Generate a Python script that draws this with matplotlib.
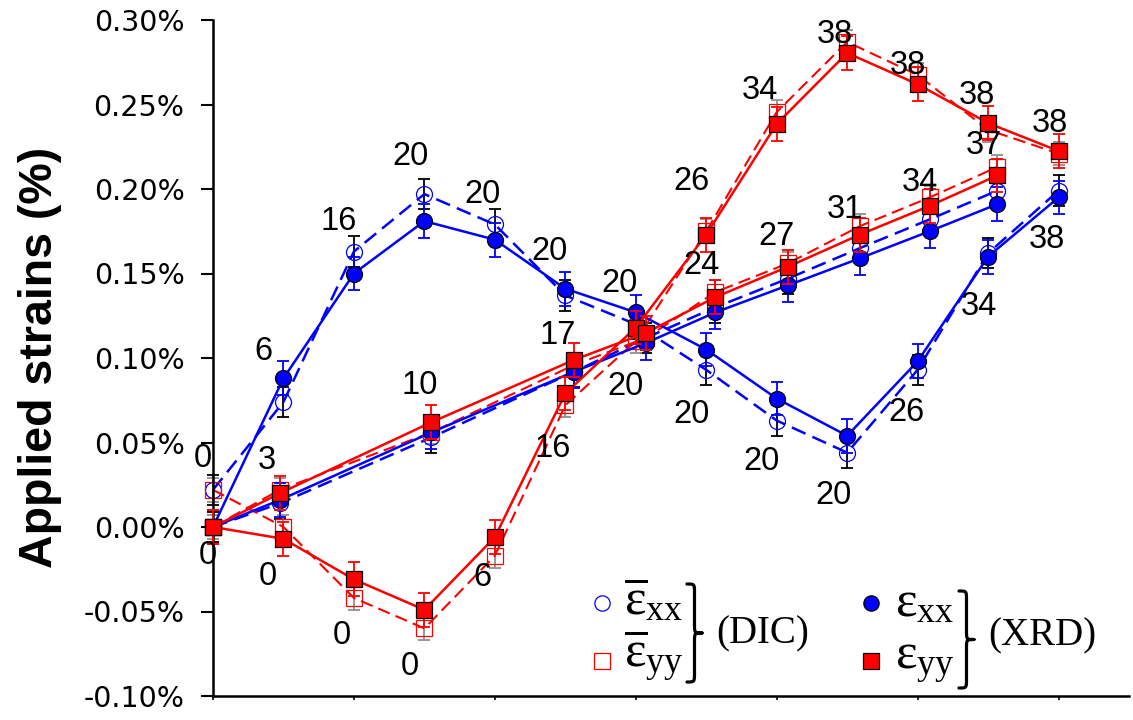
import matplotlib
matplotlib.use('Agg')
import matplotlib.pyplot as plt
from matplotlib.path import Path
from matplotlib.patches import PathPatch
from matplotlib.lines import Line2D
from matplotlib.ticker import FuncFormatter

# ---------------- data (strains in %) ----------------
# Path A: sequential loading (x then y)
step_a = [0, 1, 2, 3, 4, 5, 6, 7, 8, 9, 10, 11, 12]
xrd_xx_a = [0.000, 0.088, 0.150, 0.181, 0.170, 0.141, 0.127, 0.105, 0.076, 0.054, 0.098, 0.160, 0.195]
xrd_yy_a = [0.000, -0.007, -0.031, -0.049, -0.006, 0.079, 0.118, 0.173, 0.2385, 0.2805, 0.262, 0.239, 0.2225]
dic_xx_a = [0.022, 0.074, 0.163, 0.197, 0.179, 0.137, 0.120, 0.093, 0.063, 0.044, 0.093, 0.162, 0.199]
dic_yy_a = [0.022, 0.000, -0.042, -0.060, -0.017, 0.072, 0.110, 0.175, 0.2455, 0.287, 0.2675, 0.235, 0.221]
labels_xx_a = ['', '6', '16', '20', '20', '20', '20', '20', '20', '20', '26', '34', '38']
labels_yy_a = ['0', '0', '0', '0', '6', '16', '20', '26', '34', '38', '38', '38', '38']

# Path B: proportional loading
step_b = [0, 0.95, 3.1, 5.13, 6.15, 7.13, 8.16, 9.18, 10.17, 11.13]
xrd_xx_b = [0.000, 0.016, 0.056, 0.092, 0.109, 0.127, 0.143, 0.159, 0.175, 0.191]
xrd_yy_b = [0.000, 0.020, 0.062, 0.099, 0.115, 0.136, 0.154, 0.173, 0.190, 0.208]
dic_xx_b = [0.000, 0.014, 0.053, 0.092, 0.112, 0.130, 0.147, 0.165, 0.182, 0.199]
dic_yy_b = [0.000, 0.022, 0.056, 0.096, 0.112, 0.139, 0.156, 0.178, 0.195, 0.213]
labels_b = ['0', '3', '10', '17', '', '24', '27', '31', '34', '37']

# error bar half-widths (%)
err_xrd = 0.010
err_dic_xx = 0.009
err_dic_yy = 0.007

y_ticks = [-0.10, -0.05, 0.00, 0.05, 0.10, 0.15, 0.20, 0.25, 0.30]
x_ticks = [0, 2, 4, 6, 8, 10, 12]

# ---------------- style ----------------
# label offsets in screen pixels (dx, dy with dy positive downward)
off_xx_a = [(0, 0), (-20, -30), (-15, -56), (-14, -68), (-12, -49), (-16, -41), (-16, -32),
            (-15, 61), (-15, 59), (-14, 56), (-11, 48), (-9, 46), (-12, 39)]
off_yy_a = [(-10, -72), (-16, 34), (-12, 53), (-15, 53), (-12, 37), (-13, 52), (-10, 55),
            (-15, -57), (-17, -37), (-12, -22), (-10, -22), (-11, -31), (-9, -31)]
off_b = [(-5, 25), (-13, -36), (-12, -40), (-17, -28), (0, 0), (-14, -35), (-11, -34),
         (-15, -29), (-10, -27), (-13, -33)]

BLUE = '#0000FF'
RED = '#FF0000'
GRAY = '#909090'
MS = 11.5
DASH = (0, (6, 3))
LBL_FS = 23.5

plt.rcParams['mathtext.fontset'] = 'custom'
plt.rcParams['mathtext.rm'] = 'Liberation Serif'
plt.rcParams['mathtext.it'] = 'Liberation Serif:italic'

W, H = 1133, 720
fig = plt.figure(figsize=(W / 100, H / 100), dpi=100)
ax = fig.add_axes([213 / W, 1 - 696 / H, 916 / W, 676 / H])


def series(x, y, err, color, ecolor, marker, filled, ls, lw, z):
    ax.errorbar(x, y, yerr=err, fmt='none', ecolor=ecolor, elinewidth=1.3,
                capsize=4.5, capthick=1.3, zorder=z, clip_on=False)
    ax.plot(x, y, color=color, ls=ls, lw=lw, marker=marker, ms=MS,
            mfc=color if filled else 'none',
            mec='black' if filled else color,
            mew=0.9, zorder=z + 0.5, clip_on=False)


# DIC (open, dashed)
series(step_a, dic_xx_a, err_dic_xx, BLUE, 'black', 'o', False, DASH, 1.8, 2)
series(step_b, dic_xx_b, err_dic_xx, BLUE, 'black', 'o', False, DASH, 1.8, 2)
series(step_a, dic_yy_a, err_dic_yy, RED, GRAY, 's', False, DASH, 1.5, 2)
series(step_b, dic_yy_b, err_dic_yy, RED, GRAY, 's', False, DASH, 1.5, 2)
# XRD (filled, solid)
series(step_a, xrd_xx_a, err_xrd, BLUE, BLUE, 'o', True, '-', 1.8, 4)
series(step_b, xrd_xx_b, err_xrd, BLUE, BLUE, 'o', True, '-', 1.8, 4)
series(step_a, xrd_yy_a, err_xrd, RED, RED, 's', True, '-', 1.8, 5)
series(step_b, xrd_yy_b, err_xrd, RED, RED, 's', True, '-', 1.8, 5)


def add_labels(x, y, texts, offs):
    for xi, yi, t, (dx, dy) in zip(x, y, texts, offs):
        if t:
            ax.annotate(t, (xi, yi), xytext=(dx, -(dy + 12)), textcoords='offset pixels',
                        ha='center', va='baseline', fontsize=LBL_FS,
                        family='Liberation Sans', color='black',
                        annotation_clip=False, zorder=10)


add_labels(step_a, xrd_xx_a, labels_xx_a, off_xx_a)
add_labels(step_a, xrd_yy_a, labels_yy_a, off_yy_a)
add_labels(step_b, xrd_yy_b, labels_b, off_b)

# axes
ax.set_xlim(0, 13)
ax.set_ylim(-0.10, 0.30)
ax.set_yticks(y_ticks)
ax.set_xticks(x_ticks)
ax.yaxis.set_major_formatter(FuncFormatter(lambda v, p: f'{v:.2f}%'))
ax.set_xticklabels([])
for s in ['top', 'right']:
    ax.spines[s].set_visible(False)
for s in ['left', 'bottom']:
    ax.spines[s].set_linewidth(1.8)
ax.tick_params(axis='y', direction='out', length=9, width=1.5, pad=11.5,
               labelsize=20.5, labelcolor='black')
ax.tick_params(axis='x', direction='out', length=3, width=1.2)
for t in ax.get_yticklabels():
    t.set_family('DejaVu Sans')
ax.set_ylabel('Applied strains (%)', fontsize=33.5, fontweight='bold', family='Liberation Sans')
ax.yaxis.set_label_coords(-0.165, 0.501)


# ---------------- legend ----------------
def fx(px):
    return px / W


def fy(py):
    return 1 - py / H


def key(px, py, marker, filled, color):
    fig.add_artist(Line2D([fx(px)], [fy(py)], transform=fig.transFigure, ls='none',
                          marker=marker, ms=MS - 0.5,
                          mfc=color if filled else 'none',
                          mec='black' if filled else color, mew=0.9))


def brace(xl, xt, yt, yb):
    xm = (xl + xt) / 2
    ym = (yt + yb) / 2
    r = (xt - xl) * 0.6
    pts = [(xl, yt), (xm, yt), (xm, yt), (xm, yt + r),
           (xm, ym - r),
           (xm, ym), (xm, ym), (xt, ym),
           (xm, ym), (xm, ym), (xm, ym + r),
           (xm, yb - r),
           (xm, yb), (xm, yb), (xl, yb)]
    codes = [Path.MOVETO, Path.CURVE4, Path.CURVE4, Path.CURVE4,
             Path.LINETO,
             Path.CURVE4, Path.CURVE4, Path.CURVE4,
             Path.CURVE4, Path.CURVE4, Path.CURVE4,
             Path.LINETO,
             Path.CURVE4, Path.CURVE4, Path.CURVE4]
    p = Path([(fx(a), fy(b)) for a, b in pts], codes)
    fig.add_artist(PathPatch(p, transform=fig.transFigure, fc='none', ec='black',
                             lw=2.3, capstyle='round', joinstyle='round'))


LEG_FS = 37
key(602, 603, 'o', False, BLUE)
key(602, 661, 's', False, RED)
fig.text(fx(624), fy(614), r'$\overline{\mathrm{ε}}_{\mathrm{xx}}$', fontsize=LEG_FS, va='baseline')
fig.text(fx(624), fy(666), r'$\overline{\mathrm{ε}}_{\mathrm{yy}}$', fontsize=LEG_FS, va='baseline')
brace(687, 702, 584, 682)
fig.text(fx(716), fy(634), '(DIC)', fontsize=28, family='Liberation Serif', va='center')

key(871, 603, 'o', True, BLUE)
key(871, 661, 's', True, RED)
fig.text(fx(895), fy(616), r'$\mathrm{ε}_{\mathrm{xx}}$', fontsize=LEG_FS, va='baseline')
fig.text(fx(895), fy(669), r'$\mathrm{ε}_{\mathrm{yy}}$', fontsize=LEG_FS, va='baseline')
brace(959, 974, 591, 688)
fig.text(fx(988), fy(636), '(XRD)', fontsize=28, family='Liberation Serif', va='center')

fig.savefig('out.png', dpi=100)
